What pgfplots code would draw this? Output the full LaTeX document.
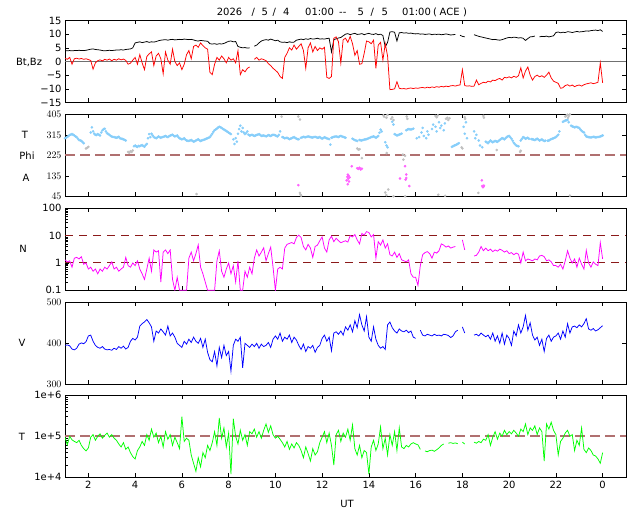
\documentclass[border=0pt]{standalone}
\usepackage{pgfplots}
\pgfplotsset{compat=1.18}
\usepackage{fontspec}
\setmainfont{DejaVu Sans}
\definecolor{phiblue}{HTML}{87CEFA}
\definecolor{ltgray}{HTML}{C0C0C0}
\definecolor{phimag}{HTML}{FF60FF}
\definecolor{nmag}{HTML}{FF00FF}
\definecolor{vblue}{HTML}{0000FF}
\definecolor{tgreen}{HTML}{00FF00}
\definecolor{bzred}{HTML}{FF0000}
\definecolor{refbrown}{HTML}{B07070}
\definecolor{refdark}{HTML}{8B1A1A}
\definecolor{zerogray}{HTML}{707070}
\newcommand{\tf}{\fontsize{10}{12}\selectfont}
\pgfplotsset{
 panel/.style={
  width=561bp, height=82bp, scale only axis, anchor=north west,
  xmin=1, xmax=25, xtick={2,4,...,24}, xticklabels={},
  tick align=inside, major tick length=4bp, minor tick length=2.5bp,
  axis line style={black, line width=0.6bp},
  every tick/.style={black, line width=0.6bp},
  tick label style={font=\tf},
  unbounded coords=jump,
 },
 ser/.style={line width=0.75bp},
}
\begin{document}
\begin{tikzpicture}[x=1bp,y=1bp]
\path[use as bounding box] (0,0) rectangle (640,-512);
\begin{scope}[every node/.style={font=\tf, inner sep=0pt, anchor=base west}]
\node at (216.7,-16) {2026};
\node at (251.5,-16) {/};
\node at (261.5,-16) {5};
\node at (272.5,-16) {/};
\node at (283,-16) {4};
\node at (305,-16) {01:00};
\node at (339,-16) {-{}-};
\node at (357.5,-16) {5};
\node at (370.5,-16) {/};
\node at (381.5,-16) {5};
\node at (402,-16) {01:00};
\node at (433,-16) {(};
\node at (439.5,-16) {ACE};
\node at (463,-16) {)};
\end{scope}
\node[font=\tf] at (29,-62) {Bt,Bz};
\node[font=\tf] at (25,-135) {T};
\node[font=\tf] at (27,-156) {Phi};
\node[font=\tf] at (26,-178) {A};
\node[font=\tf] at (23,-249) {N};
\node[font=\tf] at (22,-343) {V};
\node[font=\tf] at (22,-437) {T};
\node[font=\tf] at (347,-504) {UT};

% ---------------- panel 1: Bt, Bz
\begin{axis}[panel, at={(65bp,-20.5bp)}, ymin=-15, ymax=15, ytick={-15,-10,-5,0,5,10,15},
  yticklabels={−15,−10,−5,0,5,10,15}]
\addplot[zerogray, line width=1.8bp] coordinates {(1,0) (25,0)};
\addplot[ser, black] table[header=false, row sep=\\, x expr=\coordindex*0.1+1, y index=0] {
4.0\\ 3.9\\ 4.0\\ 3.9\\ 4.0\\ 4.0\\ 4.1\\ 4.0\\ 4.0\\ 4.1\\
4.3\\ 4.5\\ 4.6\\ 4.4\\ 4.3\\ 4.2\\ 4.0\\ 3.9\\ 4.0\\ 4.1\\
4.0\\ 4.1\\ 4.2\\ 4.2\\ 4.3\\ 4.2\\ 4.4\\ 4.5\\ 4.6\\ 5.0\\
6.8\\ 7.0\\ 7.2\\ 6.9\\ 7.1\\ 7.3\\ 7.0\\ 7.2\\ 7.1\\ 7.3\\
7.6\\ 7.8\\ 7.9\\ 8.0\\ 7.8\\ 8.0\\ 8.1\\ 7.9\\ 8.0\\ 8.1\\
8.0\\ 8.2\\ 8.1\\ 8.0\\ 8.1\\ 7.9\\ 7.6\\ 7.5\\ 7.7\\ 7.6\\
7.5\\ 7.4\\ 6.5\\ 6.4\\ 6.5\\ 6.3\\ 6.5\\ 6.4\\ 6.6\\ 7.0\\
7.4\\ 7.5\\ 7.2\\ 7.3\\ 5.5\\ 5.2\\ 5.0\\ 5.1\\ 4.9\\ 5.0\\
nan\\ 5.6\\ 6.0\\ 6.8\\ 7.5\\ 7.8\\ 8.0\\ 7.8\\ 8.2\\ 7.9\\
7.6\\ 7.8\\ 7.2\\ 7.0\\ 7.1\\ 6.9\\ 7.2\\ 7.0\\ 7.1\\ 7.8\\
8.0\\ 8.2\\ 8.0\\ 8.3\\ 8.1\\ 8.4\\ 8.2\\ 8.3\\ 8.5\\ 8.2\\
8.3\\ 8.2\\ 8.4\\ 8.5\\ 3.5\\ 8.0\\ 8.3\\ 8.6\\ 8.8\\ 9.4\\
10.0\\ 10.2\\ 9.8\\ 10.1\\ 10.3\\ 9.9\\ 10.0\\ 10.2\\ 9.8\\ 10.1\\
10.3\\ 10.0\\ 9.9\\ 10.2\\ 9.8\\ 10.0\\ 9.5\\ 5.3\\ 7.0\\ 10.8\\
10.9\\ 10.7\\ 7.5\\ 10.5\\ 10.6\\ 10.4\\ 10.5\\ 10.3\\ 10.4\\ 10.2\\
10.1\\ 10.2\\ 10.0\\ 10.1\\ 9.9\\ 10.0\\ 10.1\\ 9.8\\ 10.0\\ 9.9\\
10.0\\ 9.8\\ 9.9\\ 10.1\\ 9.9\\ 9.7\\ 9.8\\ 9.9\\ nan\\ 9.6\\
9.2\\ 9.0\\ nan\\ nan\\ nan\\ 9.8\\ 9.5\\ 9.2\\ 9.0\\ 8.8\\
8.6\\ 8.4\\ 8.2\\ 8.0\\ 8.1\\ 7.9\\ 7.8\\ 8.0\\ 8.3\\ 8.6\\
8.8\\ 8.7\\ 8.9\\ 8.8\\ 8.6\\ 8.7\\ 8.5\\ 7.7\\ 8.4\\ 9.0\\
9.1\\ 9.3\\ nan\\ 9.0\\ 9.2\\ 9.1\\ 9.3\\ 9.0\\ 9.2\\ 9.4\\
10.6\\ 10.8\\ 10.5\\ 10.7\\ 10.6\\ 10.9\\ 10.8\\ 10.6\\ 10.8\\ 11.0\\
10.8\\ 10.9\\ 11.0\\ 11.2\\ 11.1\\ 11.3\\ 11.4\\ 11.5\\ 11.3\\ 11.6\\
11.0\\
};
\addplot[ser, bzred] table[header=false, row sep=\\, x expr=\coordindex*0.1+1, y index=0] {
1.2\\ 0.8\\ 1.5\\ -1.0\\ 1.0\\ 1.2\\ 0.9\\ 1.1\\ 0.8\\ 1.0\\
0.7\\ 0.4\\ -2.8\\ -0.5\\ 0.3\\ 0.6\\ 0.2\\ 0.8\\ 0.5\\ 0.9\\
0.3\\ 0.8\\ 0.5\\ 1.0\\ 0.6\\ 0.9\\ 0.4\\ -1.0\\ -0.6\\ 0.5\\
1.5\\ -1.0\\ 2.5\\ -0.5\\ -3.0\\ 1.8\\ 2.8\\ 3.5\\ -1.5\\ 2.0\\
3.0\\ 1.0\\ -4.5\\ 3.5\\ 0.5\\ -1.0\\ 4.5\\ 0.0\\ -1.5\\ -0.5\\
-3.0\\ -1.0\\ 2.5\\ 4.0\\ 1.0\\ 5.5\\ 6.0\\ 5.2\\ 6.8\\ 5.8\\
5.0\\ 4.5\\ -4.0\\ -4.8\\ -1.0\\ 1.5\\ 0.5\\ 2.0\\ 1.0\\ -0.5\\
1.5\\ 0.5\\ 1.0\\ -0.5\\ 4.0\\ -4.8\\ -3.0\\ -3.8\\ -2.5\\ -2.0\\
nan\\ 0.8\\ 1.5\\ 0.5\\ 1.0\\ 0.7\\ 0.3\\ -0.8\\ -1.5\\ -2.5\\
-3.2\\ -4.0\\ -5.5\\ -6.2\\ 1.5\\ 3.0\\ 5.0\\ 4.2\\ 6.0\\ 4.5\\
5.5\\ 6.5\\ 4.0\\ -2.5\\ 5.0\\ 6.8\\ 3.5\\ 5.5\\ 4.0\\ 5.0\\
4.5\\ 5.2\\ -5.8\\ -6.2\\ -5.5\\ 8.5\\ 9.0\\ 7.2\\ -0.6\\ 8.0\\
8.5\\ 7.0\\ 9.2\\ 6.5\\ 2.3\\ 4.0\\ -1.0\\ -0.8\\ 3.0\\ 7.5\\
7.2\\ 6.5\\ 7.8\\ -2.5\\ 6.0\\ 7.0\\ 0.5\\ 6.5\\ 2.0\\ -10.3\\
-10.2\\ -10.0\\ -7.4\\ -9.8\\ -10.0\\ -9.9\\ -10.1\\ -9.8\\ -9.7\\ -9.9\\
-9.7\\ -9.8\\ -9.6\\ -9.5\\ -9.7\\ -9.4\\ -9.6\\ -9.3\\ -9.5\\ -9.2\\
-9.4\\ -9.1\\ -9.3\\ -9.0\\ -9.2\\ -8.9\\ -8.8\\ -9.0\\ -8.7\\ -8.6\\
-3.0\\ -8.8\\ -9.0\\ -8.9\\ -9.1\\ -9.0\\ -6.8\\ -8.5\\ -8.0\\ -7.6\\
-7.8\\ -7.2\\ -7.5\\ -6.8\\ -7.0\\ -6.5\\ -6.2\\ -6.8\\ -5.8\\ -6.0\\
-5.6\\ -6.0\\ -5.4\\ -5.8\\ -5.2\\ -2.3\\ -6.0\\ -3.5\\ -2.0\\ -5.0\\
-6.8\\ -5.5\\ -5.0\\ -5.6\\ -5.2\\ -5.8\\ -5.0\\ -3.9\\ -6.0\\ -7.2\\
-7.6\\ -8.0\\ -9.8\\ -9.6\\ -8.8\\ -8.5\\ -9.0\\ -8.6\\ -9.2\\ -8.8\\
-8.6\\ -9.0\\ -8.5\\ -8.2\\ -8.0\\ -7.8\\ -8.1\\ -7.9\\ -7.6\\ -0.5\\
-7.8\\
};
\end{axis}

% ---------------- panel 2: Phi
\begin{axis}[panel, at={(65bp,-114.3bp)}, ymin=45, ymax=405, ytick={45,135,225,315,405}]
\addplot[refbrown, line width=1.8bp, dash pattern=on 10bp off 5bp] coordinates {(1,225) (25,225)};
\addplot[only marks, mark=*, mark size=1.1bp, ltgray] coordinates {
(1.9,255)(1.95,258)(2.0,262)(3.7,240)(3.75,236)(3.8,243)(3.85,240)(3.9,246)(6.63,55)(10.27,395)(10.98,395)(11.05,382)(11.05,60)(11.08,52)(11.1,48)
(13.5,255)(13.55,250)(13.6,252)(13.7,213)(14.76,235)(14.7,62)(14.75,50)(14.83,75)(15.05,45)(15.45,228)(15.48,206)(15.55,45)(15.55,223)
(14.62,400)(14.65,395)(14.75,390)(14.8,402)(14.95,385)(15.0,392)(15.05,380)(15.62,395)(15.65,385)
(16.85,398)(16.9,392)(16.95,400)(17.3,385)(17.35,390)(17.4,380)(17.45,388)(18.1,392)(18.12,385)(18.9,398)(18.92,390)
(18.0,255)(17.97,260)(19.47,248)(20.47,240)(20.5,245)(22.4,395)(22.45,400)(22.5,403)(22.55,398)(22.6,405)(22.52,390)
(16.97,52)(17.26,47)(18.68,60)(22.6,48)
};
\addplot[only marks, mark=*, mark size=1.1bp, phiblue] coordinates {
(1.0,300)(1.1,306)(1.2,314)(1.3,318)(1.4,312)(1.5,305)(1.6,292)(1.7,288)(1.8,278)
(2.1,325)(2.15,348)(2.2,330)(2.3,315)(2.4,318)(2.5,312)(2.6,335)(2.7,342)(2.8,322)(2.9,315)
(3.0,308)(3.1,305)(3.2,302)(3.3,306)(3.4,298)(3.5,295)(3.6,290)
(3.95,265)(4.0,268)(4.1,262)(4.2,265)(4.3,270)(4.4,263)(4.5,275)(4.6,318)(4.65,305)(4.7,320)(4.8,305)(4.9,300)
(5.0,308)(5.1,302)(5.2,306)(5.3,310)(5.4,305)(5.5,312)(5.6,315)(5.7,308)(5.8,312)(5.9,300)
(6.0,295)(6.1,300)(6.2,290)(6.3,288)(6.4,292)(6.5,285)(6.6,290)(6.7,295)(6.8,288)(6.9,292)
(7.0,296)(7.1,300)(7.2,305)(7.3,320)(7.4,335)(7.5,342)(7.6,350)(7.7,345)(7.8,338)(7.9,332)
(8.0,325)(8.1,318)(8.2,295)(8.25,275)(8.3,300)(8.35,285)(8.4,320)(8.45,340)(8.5,355)(8.55,330)(8.6,345)(8.7,318)(8.8,330)(8.9,312)
(9.0,315)(9.1,310)(9.2,314)(9.3,318)(9.4,310)(9.5,312)(9.6,308)(9.7,314)(9.8,310)(9.9,315)
(10.0,312)(10.1,308)(10.2,330)(10.3,305)(10.4,300)(10.5,302)(10.6,296)(10.7,300)(10.8,305)(10.9,298)
(11.0,295)(11.1,302)(11.2,306)(11.3,304)(11.4,308)(11.5,305)(11.6,303)(11.7,306)(11.8,302)(11.9,305)
(12.0,298)(12.1,304)(12.2,300)(12.3,296)(12.35,272)(12.4,302)(12.5,306)(12.6,308)(12.7,305)(12.8,310)(12.9,306)(13.0,302)
(13.3,298)(13.4,292)(13.5,288)(13.6,292)(13.7,290)(13.8,294)(13.9,296)
(14.0,300)(14.1,305)(14.2,308)(14.3,302)(14.4,310)(14.5,338)(14.55,330)(14.7,282)(14.75,268)(14.8,260)
(15.0,372)(15.05,360)(15.1,318)(15.2,312)(15.3,316)(15.4,320)(15.6,335)(15.7,340)(15.8,338)(15.9,342)
(16.05,300)(16.15,305)(16.25,325)(16.3,345)(16.35,310)(16.45,300)(16.5,330)(16.55,315)
(16.7,340)(16.75,360)(16.85,350)(16.9,330)(17.0,370)(17.05,345)(17.1,355)(17.2,335)(17.25,365)
(17.55,262)(17.65,268)(17.75,272)(17.85,278)
(18.05,350)(18.1,320)(18.15,370)(18.2,300)(18.5,330)(18.55,300)(18.6,315)(18.7,290)(18.75,268)(18.85,260)
(19.0,285)(19.1,278)(19.2,290)(19.3,282)(19.4,288)(19.5,284)(19.6,292)(19.7,300)(19.8,295)(19.9,305)
(20.0,310)(20.1,298)(20.2,280)(20.3,268)(20.4,265)(20.5,290)(20.6,305)(20.7,298)(20.8,302)
(21.0,295)(21.1,292)(21.2,298)(21.3,290)(21.4,295)(21.5,288)(21.7,290)(21.8,296)(21.9,300)
(22.0,305)(22.1,315)(22.3,372)(22.4,378)(22.5,380)(22.7,352)(22.8,348)(22.9,350)
(23.0,345)(23.1,332)(23.2,325)(23.3,308)(23.4,305)(23.5,303)(23.6,306)(23.7,304)(23.8,305)(23.9,308)(24.0,312)
(1.05,303)(1.15,310)(1.25,316)(1.35,315)(1.45,308)(1.55,298)(1.65,290)(1.75,283)
(2.25,320)(2.35,314)(2.45,316)(2.55,325)(2.65,340)(2.75,330)(2.85,318)(2.95,310)
(3.05,306)(3.15,303)(3.25,304)(3.35,300)(3.45,297)(3.55,293)
(4.05,264)(4.15,266)(4.25,268)(4.35,266)(4.45,270)(4.55,300)(4.75,312)(4.85,302)(4.95,304)
(5.05,305)(5.15,304)(5.25,308)(5.35,307)(5.45,309)(5.55,314)(5.65,311)(5.75,310)(5.85,305)(5.95,298)
(6.05,297)(6.15,294)(6.25,289)(6.35,290)(6.45,288)(6.55,287)(6.65,293)(6.75,291)(6.85,290)(6.95,294)
(7.05,298)(7.15,302)(7.25,312)(7.35,328)(7.45,338)(7.55,347)(7.65,348)(7.75,341)(7.85,335)(7.95,328)
(8.05,322)(8.65,325)(8.75,322)(8.85,315)(8.95,313)
(9.05,312)(9.15,312)(9.25,316)(9.35,314)(9.45,311)(9.55,310)(9.65,311)(9.75,312)(9.85,313)(9.95,314)
(10.05,310)(10.15,315)(10.35,303)(10.45,301)(10.55,299)(10.65,298)(10.75,303)(10.85,301)(10.95,296)
(11.15,304)(11.25,305)(11.35,306)(11.45,306)(11.55,304)(11.65,305)(11.75,304)(11.85,303)(11.95,301)
(12.05,301)(12.15,302)(12.25,298)(12.45,304)(12.55,307)(12.65,306)(12.75,308)(12.85,308)(12.95,304)
(13.35,295)(13.45,290)(13.65,291)(13.75,292)(13.85,295)(13.95,298)
(14.05,302)(14.15,306)(14.25,305)(14.35,306)(14.45,324)
(15.15,315)(15.25,314)(15.35,318)(15.65,338)(15.75,339)(15.85,340)
(17.6,265)(17.7,270)(17.8,275)
(19.05,282)(19.15,284)(19.25,286)(19.35,285)(19.45,286)(19.55,288)(19.65,296)(19.75,298)(19.85,300)(19.95,308)
(20.05,304)(20.15,289)(20.25,274)(20.35,266)(20.55,298)(20.65,302)(20.75,300)(20.85,298)(20.95,296)
(21.05,294)(21.15,295)(21.25,294)(21.35,292)(21.45,291)(21.55,289)(21.65,289)(21.75,293)(21.85,298)(21.95,302)
(22.05,310)(22.15,330)(22.35,375)(22.45,379)(22.55,370)(22.65,355)(22.75,350)(22.85,349)(22.95,347)
(23.05,338)(23.15,328)(23.25,315)(23.35,306)(23.45,304)(23.55,305)(23.65,305)(23.75,304)(23.85,306)(23.95,310)
};
\addplot[only marks, mark=*, mark size=1.1bp, phimag] coordinates {
(10.98,94)(13.05,115)(13.08,130)(13.1,140)(13.12,122)(13.15,110)(13.1,98)(13.18,128)(13.13,135)(13.27,177)
(13.5,168)(13.55,165)(13.6,170)(13.65,163)(13.7,166)(15.33,123)(15.55,177)(15.6,141)(15.57,118)(15.6,125)(15.73,90)
(18.83,115)(18.85,90)(18.88,85)(18.9,88)(18.92,92)
};
\end{axis}

% ---------------- panel 3: N
\begin{axis}[panel, at={(65bp,-208.3bp)}, ymode=log, ymin=0.1, ymax=100, ytick={0.1,1,10,100},
  yticklabels={0.1,1,10,100}, ytick pos=left,
  minor ytick={0.2,0.3,0.4,0.5,0.6,0.7,0.8,0.9,2,3,4,5,6,7,8,9,20,30,40,50,60,70,80,90}]
\addplot[refdark, line width=1.0bp, dash pattern=on 8bp off 6bp] coordinates {(1,1) (25,1)};
\addplot[refdark, line width=1.0bp, dash pattern=on 8bp off 6bp] coordinates {(1,10) (25,10)};
\addplot[ser, nmag] table[header=false, row sep=\\, x expr=\coordindex*0.1+1, y index=0] {
1.3\\ 1.1\\ 1.2\\ 0.7\\ 1.5\\ 1.6\\ 1.4\\ 1.7\\ 0.9\\ 1.0\\
0.6\\ 0.7\\ 0.5\\ 0.6\\ 0.4\\ 0.6\\ 0.5\\ 0.7\\ 0.6\\ 0.8\\
1.1\\ 0.6\\ 0.7\\ 0.5\\ 0.6\\ 0.7\\ 1.6\\ 0.8\\ 0.7\\ 1.0\\
0.8\\ 1.2\\ 0.6\\ 0.4\\ 0.25\\ 0.6\\ 1.5\\ 0.5\\ 3.0\\ 2.5\\
2.8\\ 0.2\\ 2.5\\ 3.0\\ 2.2\\ 3.0\\ 0.25\\ 0.1\\ 0.3\\ 0.1\\
0.1\\ 0.1\\ 0.1\\ 1.5\\ 2.5\\ 1.2\\ 2.2\\ 4.6\\ 0.7\\ 0.4\\
0.2\\ 0.1\\ 0.1\\ 0.1\\ 0.1\\ 1.2\\ 2.8\\ 0.5\\ 0.3\\ 0.6\\
1.0\\ 0.4\\ 0.8\\ 0.2\\ 1.2\\ 0.1\\ 0.1\\ 0.5\\ 0.3\\ 0.7\\
0.4\\ 1.5\\ 3.0\\ 1.8\\ 2.5\\ 3.6\\ 1.2\\ 2.2\\ 3.8\\ 0.7\\
0.1\\ 0.6\\ 0.7\\ 0.6\\ 3.5\\ 4.8\\ 5.2\\ 5.6\\ 5.0\\ 8.5\\
10.5\\ 8.5\\ 4.0\\ 3.0\\ 4.8\\ 3.5\\ 1.6\\ 4.0\\ 4.5\\ 6.5\\
9.0\\ 3.5\\ 2.5\\ 7.0\\ 9.5\\ 6.0\\ 8.0\\ 6.5\\ 5.5\\ 6.0\\
6.5\\ 5.8\\ 10.0\\ 9.0\\ 11.0\\ 7.0\\ 5.0\\ 12.0\\ 10.5\\ 14.0\\
13.0\\ 9.0\\ 11.0\\ 1.5\\ 6.0\\ 4.5\\ 7.0\\ 3.5\\ 5.0\\ 2.0\\
1.8\\ 2.5\\ 1.6\\ 2.2\\ 1.3\\ 1.2\\ 1.1\\ 1.3\\ 0.4\\ 0.3\\
0.3\\ 0.15\\ 0.8\\ 2.0\\ 2.4\\ 2.6\\ 2.2\\ 1.5\\ 2.5\\ 2.3\\
2.8\\ 5.0\\ 4.5\\ 3.8\\ 4.2\\ 3.5\\ 3.8\\ 4.0\\ nan\\ nan\\
7.0\\ 3.0\\ nan\\ nan\\ nan\\ 1.8\\ 1.9\\ 2.5\\ 4.0\\ 2.8\\
3.5\\ 2.8\\ 3.2\\ 2.6\\ 3.0\\ 2.7\\ 3.2\\ 2.9\\ 2.5\\ 2.8\\
2.2\\ 2.4\\ 2.0\\ 2.3\\ 2.1\\ 1.0\\ 2.5\\ 1.2\\ 1.4\\ 1.3\\
1.2\\ 1.4\\ 1.3\\ 1.8\\ 1.9\\ 1.7\\ 1.2\\ 1.3\\ 1.1\\ 0.8\\
0.8\\ 0.7\\ 0.9\\ 0.6\\ 1.2\\ 2.8\\ 1.5\\ 1.0\\ 1.4\\ 0.7\\
1.5\\ 0.9\\ 0.6\\ 2.9\\ 1.0\\ 0.7\\ 1.1\\ 0.9\\ 0.8\\ 5.5\\
1.4\\
};
\end{axis}

% ---------------- panel 4: V
\begin{axis}[panel, at={(65bp,-302.3bp)}, ymin=300, ymax=500, ytick={300,400,500}]
\addplot[ser, vblue] table[header=false, row sep=\\, x expr=\coordindex*0.1+1, y index=0] {
395\\ 396\\ 394\\ 386\\ 384\\ 388\\ 398\\ 401\\ 399\\ 404\\
418\\ 420\\ 405\\ 395\\ 390\\ 388\\ 392\\ 386\\ 384\\ 385\\
383\\ 388\\ 385\\ 392\\ 388\\ 393\\ 386\\ 390\\ 405\\ 412\\
408\\ 415\\ 442\\ 448\\ 452\\ 458\\ 450\\ 440\\ 405\\ 430\\
425\\ 435\\ 428\\ 420\\ 442\\ 418\\ 425\\ 415\\ 400\\ 395\\
390\\ 405\\ 398\\ 410\\ 402\\ 415\\ 405\\ 400\\ 412\\ 390\\
410\\ 378\\ 360\\ 355\\ 380\\ 345\\ 390\\ 365\\ 395\\ 370\\
380\\ 332\\ 395\\ 410\\ 405\\ 415\\ 340\\ 400\\ 395\\ 390\\
398\\ 392\\ 400\\ 388\\ 398\\ 392\\ 395\\ 402\\ 390\\ 410\\
418\\ 410\\ 425\\ 405\\ 415\\ 410\\ 420\\ 402\\ 415\\ 408\\
395\\ 385\\ 398\\ 380\\ 392\\ 388\\ 395\\ 378\\ 390\\ 395\\
412\\ 420\\ 405\\ 415\\ 382\\ 425\\ 428\\ 422\\ 430\\ 420\\
440\\ 432\\ 445\\ 428\\ 455\\ 438\\ 470\\ 445\\ 430\\ 465\\
415\\ 405\\ 440\\ 410\\ 395\\ 388\\ 392\\ 385\\ 445\\ 452\\
438\\ 430\\ 425\\ 435\\ 430\\ 428\\ 432\\ 426\\ 430\\ 415\\
412\\ nan\\ 432\\ 420\\ 418\\ 422\\ 420\\ 418\\ 422\\ 419\\
420\\ 418\\ 422\\ 421\\ 419\\ 414\\ 418\\ 428\\ 432\\ nan\\
440\\ 425\\ nan\\ nan\\ nan\\ 420\\ 422\\ 418\\ 425\\ 420\\
416\\ 420\\ 410\\ 425\\ 405\\ 418\\ 400\\ 425\\ 398\\ 420\\
412\\ 395\\ 430\\ 418\\ 445\\ 425\\ 440\\ 468\\ 432\\ 450\\
420\\ 408\\ 415\\ 395\\ 410\\ 380\\ 412\\ 420\\ 405\\ 415\\
418\\ 425\\ 410\\ 430\\ 415\\ 448\\ 425\\ 440\\ 442\\ 438\\
445\\ 440\\ 448\\ 460\\ 435\\ 432\\ 436\\ 430\\ 433\\ 438\\
443\\
};
\end{axis}

% ---------------- panel 5: T
\begin{axis}[panel, at={(65bp,-395.3bp)}, ymode=log, ymin=1e4, ymax=1e6, ytick={1e4,1e5,1e6},
  yticklabels={1e+4,1e+5,1e+6}, ytick pos=left,
  minor ytick={2e4,3e4,4e4,5e4,6e4,7e4,8e4,9e4,2e5,3e5,4e5,5e5,6e5,7e5,8e5,9e5},
  xticklabels={2,4,6,8,10,12,14,16,18,20,22,0}]
\addplot[refbrown, line width=1.8bp, dash pattern=on 10bp off 5bp] coordinates {(1,1e5) (25,1e5)};
\addplot[ser, tgreen] table[header=false, row sep=\\, x expr=\coordindex*0.1+1, y index=0] {
95000\\ 62000\\ 100000\\ 82000\\ 75000\\ 70000\\ 80000\\ 60000\\ 50000\\ 44000\\
52000\\ 95000\\ 110000\\ 80000\\ 100000\\ 115000\\ 90000\\ 105000\\ 120000\\ 95000\\
110000\\ 90000\\ 80000\\ 65000\\ 55000\\ 70000\\ 48000\\ 55000\\ 40000\\ 32000\\
28000\\ 45000\\ 55000\\ 75000\\ 60000\\ 110000\\ 80000\\ 150000\\ 95000\\ 120000\\
70000\\ 100000\\ 55000\\ 130000\\ 85000\\ 110000\\ 60000\\ 95000\\ 70000\\ 50000\\
300000\\ 75000\\ 90000\\ 80000\\ 35000\\ 22000\\ 14000\\ 30000\\ 18000\\ 40000\\
30000\\ 60000\\ 45000\\ 70000\\ 130000\\ 60000\\ 280000\\ 90000\\ 160000\\ 55000\\
120000\\ 12000\\ 270000\\ 100000\\ 65000\\ 140000\\ 80000\\ 110000\\ 60000\\ 130000\\
115000\\ 150000\\ 95000\\ 130000\\ 90000\\ 140000\\ 200000\\ 125000\\ 180000\\ 110000\\
90000\\ 100000\\ 85000\\ 70000\\ 55000\\ 75000\\ 48000\\ 65000\\ 52000\\ 70000\\
60000\\ 45000\\ 30000\\ 55000\\ 38000\\ 25000\\ 50000\\ 35000\\ 42000\\ 70000\\
95000\\ 130000\\ 70000\\ 120000\\ 60000\\ 20000\\ 110000\\ 140000\\ 75000\\ 120000\\
95000\\ 150000\\ 80000\\ 190000\\ 50000\\ 35000\\ 60000\\ 30000\\ 45000\\ 40000\\
12000\\ 55000\\ 80000\\ 45000\\ 65000\\ 170000\\ 50000\\ 90000\\ 35000\\ 110000\\
60000\\ 130000\\ 45000\\ 160000\\ 55000\\ 50000\\ 60000\\ 55000\\ 65000\\ 70000\\
65000\\ 62000\\ 48000\\ nan\\ 44000\\ 42000\\ 45000\\ 46000\\ 43000\\ 47000\\
52000\\ 60000\\ 65000\\ nan\\ 68000\\ 70000\\ 67000\\ 69000\\ 66000\\ nan\\
72000\\ 65000\\ nan\\ nan\\ nan\\ 72000\\ 68000\\ 75000\\ 70000\\ 85000\\
80000\\ 110000\\ 60000\\ 95000\\ 130000\\ 85000\\ 120000\\ 100000\\ 140000\\ 110000\\
130000\\ 115000\\ 140000\\ 120000\\ 100000\\ 150000\\ 130000\\ 200000\\ 110000\\ 160000\\
140000\\ 180000\\ 110000\\ 160000\\ 130000\\ 25000\\ 200000\\ 150000\\ 220000\\ 140000\\
110000\\ 35000\\ 75000\\ 90000\\ 120000\\ 140000\\ 100000\\ 110000\\ 45000\\ 80000\\
60000\\ 160000\\ 48000\\ 40000\\ 52000\\ 45000\\ 35000\\ 33000\\ 28000\\ 22000\\
40000\\
};
\end{axis}
\end{tikzpicture}
\end{document}
